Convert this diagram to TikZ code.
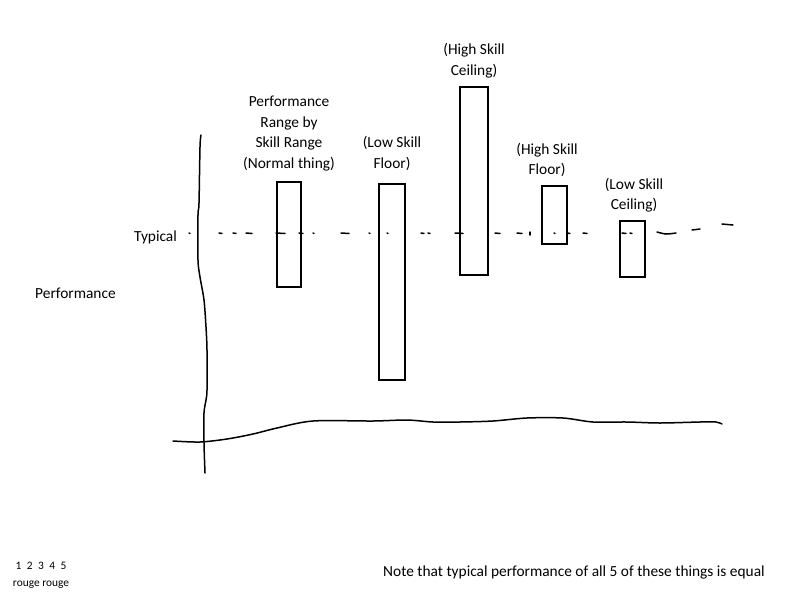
\documentclass[tikz,border=0pt]{standalone}
\usepackage{fontspec}
\setmainfont{Carlito}
\begin{document}
\begin{tikzpicture}[x=1pt,y=-1pt,
  bar/.style={draw=black, line width=1.5pt, inner sep=0pt},
  lbl/.style={align=center, font=\fontsize{15.4}{20.5}\selectfont, inner sep=0pt},
  txt/.style={font=\fontsize{15.4}{18}\selectfont, inner sep=0pt},
  small/.style={font=\fontsize{11.4}{17}\selectfont, inner sep=0pt, align=center},
  hand/.style={line width=1.5pt, line cap=round, line join=round},
  dashmark/.style={line width=1.5pt, line cap=round}]
\useasboundingbox (0,0) rectangle (800,600);
% axes
\draw[hand] plot[smooth] coordinates {(201,135)(200,147)(199,203)(198,215)(198,260)(200,277)(204,300)(206,327)(207,350)(207,390)(206,400)(204,413)(204,443)(205,473)};
\draw[hand] plot[smooth] coordinates {(173,441)(200,442)(227,439)(253,434)(277,428)(313,421)(373,421)(407,420)(433,422)(460,422)(493,421)(527,418)(563,418)(593,422)(627,422)(660,423)(700,422)(716,422)(722,424)};
% typical marks
\foreach \a/\b in {189/190, 219/222, 233/236, 246/252, 276/285, 299/303, 313/314, 341/349, 369/370, 387/388, 421/424, 428/430, 455/463, 495/500, 517/522, 554/555, 567/570, 583/587, 622/626, 630/632}
  \draw[dashmark] (\a,233) -- (\b,233.5);
\draw[dashmark] (530,232) -- (530,235);
\draw[dashmark] plot[smooth] coordinates {(657,232)(666,234)(676,233)};
\draw[dashmark] (692,230) -- (700,229);
\draw[dashmark] (722,224) -- (733,225);
% bars
\node[bar, minimum width=24pt, minimum height=105pt] (b1) at (289,234.5) {};
\node[bar, minimum width=26pt, minimum height=196pt] (b2) at (392,282) {};
\node[bar, minimum width=28pt, minimum height=188pt] (b3) at (474,181) {};
\node[bar, minimum width=25pt, minimum height=58pt] (b4) at (554.5,215) {};
\node[bar, minimum width=25pt, minimum height=56pt] (b5) at (632.5,249) {};
% labels
\node[lbl] (l1) at (289,133.5) {Performance\\Range by\\Skill Range\\(Normal thing)};
\node[lbl] (l2) at (392,153.5) {(Low Skill\\Floor)};
\node[lbl] (l3) at (474,60.5) {(High Skill\\Ceiling)};
\node[lbl] (l4) at (547,160) {(High Skill\\Floor)};
\node[lbl] (l5) at (634,195) {(Low Skill\\Ceiling)};
\node[txt, anchor=west] (typ) at (134,237) {Typical};
\node[txt, anchor=west] (perf) at (35,293) {Performance};
\node[txt, anchor=west] (note) at (383,572) {Note that typical performance of all 5 of these things is equal};
\node[small] (nums) at (41,575) {1\hspace{5.5pt}2\hspace{5.5pt}3\hspace{5.5pt}4\hspace{5.5pt}5\\rouge rouge};
\end{tikzpicture}
\end{document}
